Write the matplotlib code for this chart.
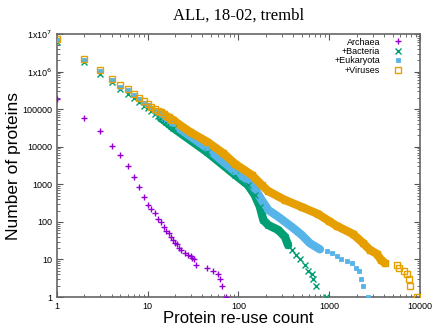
import numpy as np
import matplotlib.pyplot as plt
from matplotlib.ticker import FixedLocator, LogLocator, NullFormatter

# re-use count -> number of proteins
arch_x = [1, 2, 3, 4, 5, 6, 7, 8, 9, 10, 11, 12, 13, 14, 15, 16, 17, 18, 19, 20,
          21, 22, 23, 26, 28, 30, 31, 32, 34, 45, 53, 59, 62, 66, 73]
arch_y = [186000, 57000, 27000, 10500, 6100, 3100, 1535, 863, 467, 281, 220, 172,
          121, 97, 72, 57, 51, 39, 32, 28, 26, 20, 18, 15, 13, 12, 11, 10, 7, 6,
          5, 4, 3, 2, 1]

bact_x = [1, 2, 3, 4, 5, 6, 7, 8, 9, 10, 11, 12, 13, 14, 15, 16, 17, 18, 19, 45,
          92, 127, 151, 172, 188, 213, 274, 325, 352, 385, 432, 479, 541, 589,
          644, 661, 710, 922]
bact_y = [6.0e6, 1.8e6, 8.7e5, 5.2e5, 3.4e5, 2.6e5, 2.0e5, 1.55e5, 1.25e5, 1.05e5,
          8.7e4, 7.5e4, 6.4e4, 5.7e4, 5.1e4, 4.5e4, 4.0e4, 3.6e4, 3.2e4, 7.2e3,
          1770, 957, 519, 253, 112, 82, 61, 40, 24, 17.8, 13, 10, 7, 5, 4, 3, 2, 1]

euk_x = [1, 2, 3, 4, 5, 6, 7, 8, 9, 10, 11, 12, 13, 14, 15, 16, 17, 18, 19, 45,
         92, 127, 151, 180, 213, 274, 385, 497, 612, 790, 937, 1064, 1208, 1337,
         1557, 1767, 1971, 2128, 2222, 2373, 2693]
euk_y = [6.8e6, 2.07e6, 1.03e6, 6.1e5, 4.0e5, 3.15e5, 2.4e5, 1.85e5, 1.5e5, 1.28e5,
         1.05e5, 9.0e4, 7.8e4, 6.9e4, 6.1e4, 5.4e4, 4.9e4, 4.4e4, 4.0e4, 9.2e3,
         2160, 1300, 782, 382, 207, 137, 74, 45, 27, 18.6, 17, 15, 12, 10, 9, 8,
         6, 5, 3, 2, 1]

vir_x = [1, 2, 3, 4, 5, 6, 7, 8, 9, 10, 11, 12, 13, 14, 15, 16, 17, 18, 19, 29,
         45, 68, 92, 140, 180, 211, 325, 497, 752, 994, 1208, 1828, 2355, 2812,
         3360, 3718, 4113, 5537, 5870, 6718, 7250, 7624, 7763, 9200]
vir_y = [7.2e6, 2.2e6, 1.1e6, 6.5e5, 4.3e5, 3.4e5, 2.6e5, 2.0e5, 1.65e5, 1.4e5,
         1.16e5, 1.0e5, 9.0e4, 8.2e4, 7.3e4, 6.6e4, 6.0e4, 5.5e4, 5.1e4, 2.5e4,
         1.36e4, 6.7e3, 3470, 1770, 960, 663, 382, 249, 162, 105, 78, 47.5, 27.4,
         17.8, 14, 9.7, 8, 7, 6, 5, 4, 3, 2, 1]

series = [
    ("Archaea", arch_x, arch_y, "#9400d3", "+", None),
    ("+Bacteria", bact_x, bact_y, "#009e73", "x", 352),
    ("+Eukaryota", euk_x, euk_y, "#56b4e9", "s", 790),
    ("+Viruses", vir_x, vir_y, "#e69f00", "s", 4113),
]

fig = plt.figure(figsize=(4.36, 3.27), dpi=100)
ax = fig.add_axes([0.1307, 0.0917, 0.8326, 0.8043])

for name, xs, ys, col, mk, band_end in series:
    xs = np.array(xs, dtype=float)
    ys = np.array(ys, dtype=float)
    if band_end is not None:
        sel = (xs >= 14) & (xs <= band_end)
        ax.plot(xs[sel], ys[sel], color=col, lw=6, solid_capstyle="round",
                solid_joinstyle="round", zorder=2)
    if name == "+Viruses":
        ax.plot(xs, ys, ls="none", marker=mk, ms=4.5, mfc="none", mec=col,
                mew=1.0, label=name, zorder=3)
    elif mk == "s":
        ax.plot(xs, ys, ls="none", marker=mk, ms=3.5, color=col, mew=0.6,
                label=name, zorder=3)
    else:
        ax.plot(xs, ys, ls="none", marker=mk, ms=4, color=col, mew=1.0,
                label=name, zorder=3)

ax.set_xscale("log")
ax.set_yscale("log")
ax.set_xlim(1, 10000)
ax.set_ylim(1, 1e7)

ax.xaxis.set_major_locator(FixedLocator([1, 10, 100, 1000, 10000]))
ax.set_xticklabels(["1", "10", "100", "1000", "10000"])
ax.yaxis.set_major_locator(FixedLocator([1, 10, 100, 1000, 1e4, 1e5, 1e6, 1e7]))
ax.set_yticklabels(["1", "10", "100", "1000", "10000", "100000",
                    "1x10$^6$", "1x10$^7$"])
ax.xaxis.set_minor_locator(LogLocator(base=10, subs=np.arange(2, 10)))
ax.yaxis.set_minor_locator(LogLocator(base=10, subs=np.arange(2, 10)))
ax.xaxis.set_minor_formatter(NullFormatter())
ax.yaxis.set_minor_formatter(NullFormatter())

ax.tick_params(which="both", direction="in", top=True, right=True,
               color="#555555", labelsize=6.5, labelfontfamily="Liberation Sans")
ax.tick_params(which="major", length=4, width=0.8)
ax.tick_params(which="minor", length=2, width=0.6)
for sp in ax.spines.values():
    sp.set_color("#666666")
    sp.set_linewidth(1.2)

ax.set_xlabel("Protein re-use count", fontsize=12, family="Liberation Sans",
              labelpad=0)
ax.set_ylabel("Number of proteins", fontsize=12.5, family="Liberation Sans",
              labelpad=1)
ax.set_title("ALL, 18-02, trembl", fontsize=12, family="Liberation Serif", pad=10)

ax.legend(loc="upper right", bbox_to_anchor=(0.957, 0.99), frameon=False,
          markerfirst=False,
          prop={"family": "Liberation Sans", "size": 6.5}, handlelength=1.2,
          handletextpad=1.4, labelspacing=0.05, borderaxespad=0,
          borderpad=0.1)

plt.savefig("out.png", dpi=100)
